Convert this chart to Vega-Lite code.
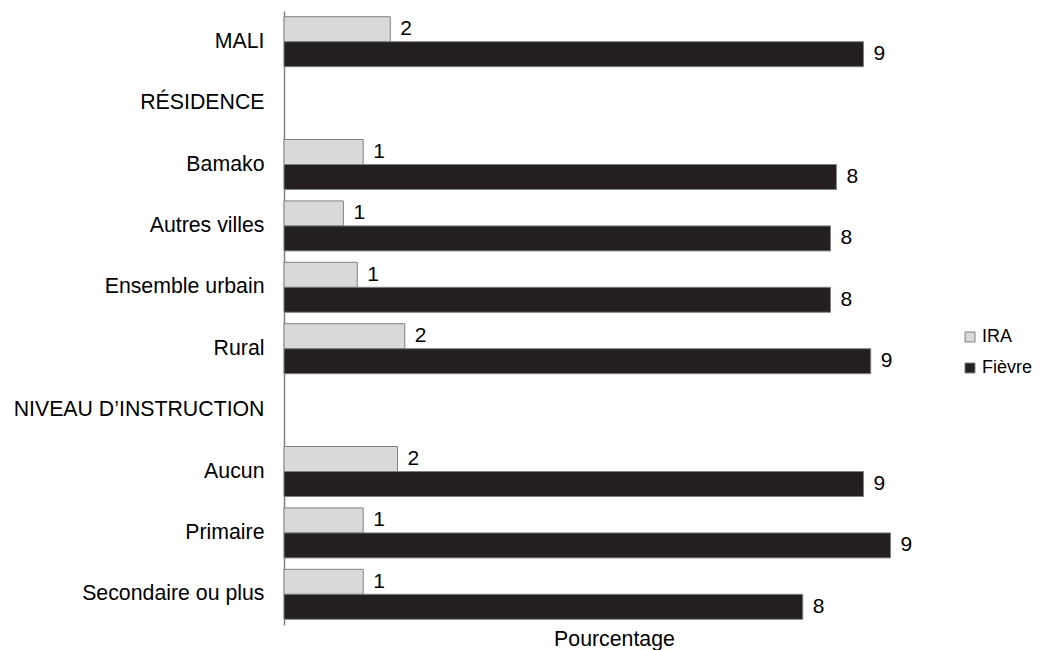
{
  "$schema": "https://vega.github.io/schema/vega-lite/v6.json",
  "width": 660,
  "height": 614,
  "autosize": {"type": "none"},
  "padding": {"left": 284, "top": 11, "right": 99, "bottom": 25},
  "background": "white",
  "config": {
    "view": {"stroke": null},
    "font": "Liberation Sans",
    "text": {"font": "Liberation Sans"}
  },
  "data": {
    "values": [
      {"cat": "MALI", "serie": "IRA", "valeur": 1.61},
      {"cat": "MALI", "serie": "Fièvre", "valeur": 8.78},
      {"cat": "Bamako", "serie": "IRA", "valeur": 1.20},
      {"cat": "Bamako", "serie": "Fièvre", "valeur": 8.37},
      {"cat": "Autres villes\u00a0", "serie": "IRA", "valeur": 0.90},
      {"cat": "Autres villes\u00a0", "serie": "Fièvre", "valeur": 8.28},
      {"cat": "Ensemble urbain", "serie": "IRA", "valeur": 1.11},
      {"cat": "Ensemble urbain", "serie": "Fièvre", "valeur": 8.28},
      {"cat": "Rural\u00a0", "serie": "IRA", "valeur": 1.83},
      {"cat": "Rural\u00a0", "serie": "Fièvre", "valeur": 8.89},
      {"cat": "Aucun\u00a0", "serie": "IRA", "valeur": 1.72},
      {"cat": "Aucun\u00a0", "serie": "Fièvre", "valeur": 8.78},
      {"cat": "Primaire\u00a0", "serie": "IRA", "valeur": 1.20},
      {"cat": "Primaire\u00a0", "serie": "Fièvre", "valeur": 9.19},
      {"cat": "Secondaire ou plus", "serie": "IRA", "valeur": 1.20},
      {"cat": "Secondaire ou plus", "serie": "Fièvre", "valeur": 7.86}
    ]
  },
  "encoding": {
    "y": {
      "field": "cat",
      "type": "nominal",
      "scale": {
        "domain": ["MALI", "RÉSIDENCE", "Bamako", "Autres villes\u00a0", "Ensemble urbain", "Rural\u00a0", "NIVEAU D’INSTRUCTION", "Aucun\u00a0", "Primaire\u00a0", "Secondaire ou plus"],
        "paddingInner": 0.186,
        "paddingOuter": 0.093
      },
      "axis": {
        "title": null,
        "ticks": false,
        "labelPadding": 20,
        "labelFontSize": 21.3,
        "labelColor": "#000000",
        "labelFont": "Liberation Sans",
        "domainColor": "#808080",
        "domainWidth": 1.5,
        "labelLimit": 400
      }
    },
    "yOffset": {"field": "serie", "type": "nominal", "sort": ["IRA", "Fièvre"]},
    "x": {
      "field": "valeur",
      "type": "quantitative",
      "scale": {"domain": [0, 10]},
      "axis": {
        "labels": false,
        "ticks": false,
        "domain": false,
        "grid": false,
        "title": "Pourcentage",
        "titleFontSize": 21.3,
        "titleFontWeight": "normal",
        "titleColor": "#000000",
        "titleFont": "Liberation Sans",
        "titlePadding": 3
      }
    }
  },
  "layer": [
    {
      "mark": {"type": "bar", "stroke": "#808080", "strokeWidth": 1},
      "encoding": {
        "color": {
          "field": "serie",
          "type": "nominal",
          "sort": ["IRA", "Fièvre"],
          "scale": {"domain": ["IRA", "Fièvre"], "range": ["#d9d9d9", "#231f20"]},
          "legend": {
            "title": null,
            "orient": "none",
            "legendX": 677,
            "legendY": 317,
            "symbolType": "square",
            "symbolSize": 100,
            "symbolStrokeColor": "#808080",
            "symbolStrokeWidth": 1,
            "labelFontSize": 18,
            "labelFont": "Liberation Sans",
            "labelColor": "#000000",
            "labelOffset": 3,
            "rowPadding": 13
          }
        }
      }
    },
    {
      "mark": {"type": "text", "align": "left", "baseline": "middle", "dx": 10, "fontSize": 21, "color": "#000000"},
      "encoding": {
        "text": {"field": "valeur", "type": "quantitative", "format": ".0f"}
      }
    }
  ]
}
